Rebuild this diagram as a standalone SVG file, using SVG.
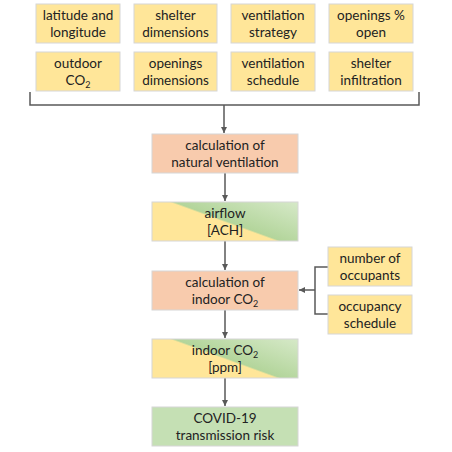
<svg xmlns="http://www.w3.org/2000/svg" width="452" height="452" viewBox="0 0 452 452">
<style>
.box{stroke:#d6d6d6;stroke-width:1}
.y{fill:#ffe699}
.o{fill:#f8cbad}
.g{fill:#c5e0b4}
text{font-family:Lato,"Open Sans","Liberation Sans",sans-serif;font-size:13.5px;fill:#222;text-anchor:middle}
.sub{font-size:9px}
.c{fill:none;stroke:#595959;stroke-width:1.5}
</style>
<defs>
<marker id="ah" viewBox="0 0 10 10" refX="10" refY="5" markerWidth="4" markerHeight="4" orient="auto-start-reverse" markerUnits="strokeWidth">
<path d="M0,0 L10,5 L0,10 z" fill="#595959"/>
</marker>
<linearGradient id="gr1" gradientUnits="userSpaceOnUse" x1="210.2" y1="262.2" x2="239.8" y2="180.8">
<stop offset="0" stop-color="#ffe699"/>
<stop offset="0.49" stop-color="#ffe699"/>
<stop offset="0.51" stop-color="#b3d59b"/>
<stop offset="1" stop-color="#d6e9c8"/>
</linearGradient>
<linearGradient id="gr2" gradientUnits="userSpaceOnUse" x1="210.2" y1="399.2" x2="239.8" y2="317.8">
<stop offset="0" stop-color="#ffe699"/>
<stop offset="0.49" stop-color="#ffe699"/>
<stop offset="0.51" stop-color="#b3d59b"/>
<stop offset="1" stop-color="#d6e9c8"/>
</linearGradient>
</defs>
<rect width="452" height="452" fill="#fff"/>

<g id="connectors">
<path class="c" d="M30,92 V105 H419 V92"/>
<path class="c" d="M224,105 V133" marker-end="url(#ah)"/>
<path class="c" d="M225,173 V201" marker-end="url(#ah)"/>
<path class="c" d="M225,241 V270" marker-end="url(#ah)"/>
<path class="c" d="M225,310 V338" marker-end="url(#ah)"/>
<path class="c" d="M225,378 V406" marker-end="url(#ah)"/>
<path class="c" d="M328,267 H315 V314 H328"/>
<path class="c" d="M315,290 H299" marker-end="url(#ah)"/>
</g>

<g id="n1"><rect class="box y" x="36" y="4" width="84" height="39"/><text x="78" y="20">latitude and</text><text x="78" y="37">longitude</text></g>
<g id="n2"><rect class="box y" x="134" y="4" width="83" height="39"/><text x="175.5" y="20">shelter</text><text x="175.5" y="37">dimensions</text></g>
<g id="n3"><rect class="box y" x="231" y="4" width="84" height="39"/><text x="273" y="20">ventilation</text><text x="273" y="37">strategy</text></g>
<g id="n4"><rect class="box y" x="329" y="4" width="84" height="39"/><text x="371" y="20">openings %</text><text x="371" y="37">open</text></g>

<g id="n5"><rect class="box y" x="36" y="52" width="84" height="39"/><text x="78" y="68">outdoor</text><text x="78" y="85">CO<tspan class="sub" dy="3">2</tspan></text></g>
<g id="n6"><rect class="box y" x="134" y="52" width="83" height="39"/><text x="175.5" y="68">openings</text><text x="175.5" y="85">dimensions</text></g>
<g id="n7"><rect class="box y" x="231" y="52" width="84" height="39"/><text x="273" y="68">ventilation</text><text x="273" y="85">schedule</text></g>
<g id="n8"><rect class="box y" x="329" y="52" width="84" height="39"/><text x="371" y="68">shelter</text><text x="371" y="85">infiltration</text></g>

<g id="calcvent"><rect class="box o" x="152" y="134" width="146" height="39"/><text x="225" y="150">calculation of</text><text x="225" y="167">natural ventilation</text></g>
<g id="airflow"><rect class="box" fill="url(#gr1)" x="152" y="202" width="146" height="39"/><text x="225" y="218">airflow</text><text x="225" y="235">[ACH]</text></g>
<g id="calcco2"><rect class="box o" x="152" y="271" width="146" height="39"/><text x="225" y="287">calculation of</text><text x="225" y="304">indoor CO<tspan class="sub" dy="3">2</tspan></text></g>
<g id="occ"><rect class="box y" x="328" y="247" width="84" height="39"/><text x="370" y="263">number of</text><text x="370" y="280">occupants</text></g>
<g id="sched"><rect class="box y" x="328" y="295" width="84" height="39"/><text x="370" y="311">occupancy</text><text x="370" y="328">schedule</text></g>
<g id="indoor"><rect class="box" fill="url(#gr2)" x="152" y="339" width="146" height="39"/><text x="225" y="355">indoor CO<tspan class="sub" dy="3">2</tspan></text><text x="225" y="372">[ppm]</text></g>
<g id="covid"><rect class="box g" x="152" y="407" width="146" height="39"/><text x="225" y="423">COVID-19</text><text x="225" y="440">transmission risk</text></g>
</svg>
